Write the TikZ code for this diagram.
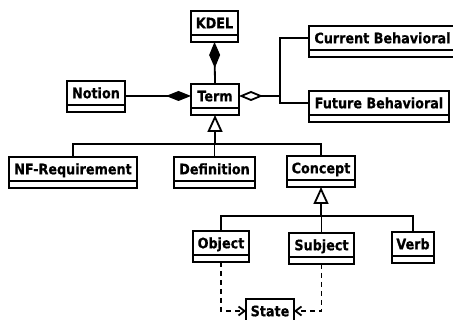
\documentclass[tikz,border=0pt]{standalone}
\usepackage{fontspec}
\setmainfont{DejaVu Sans}[FakeStretch=0.88,BoldFeatures={FakeBold=0.5}]
\usetikzlibrary{arrows.meta}
\begin{document}
\begin{tikzpicture}[x=1pt,y=-1pt,
  umlclass/.style={draw, line width=1.8pt, anchor=north west, outer sep=0pt,
    inner xsep=0pt, inner ysep=0pt, text height=17.3pt, text depth=13.7pt,
    font=\fontsize{14.5pt}{16pt}\selectfont\bfseries,
    path picture={\draw[line width=1.8pt]
      ([yshift=7pt]path picture bounding box.south west) --
      ([yshift=7pt]path picture bounding box.south east);}},
  conn/.style={line width=1.8pt},
  depend/.style={conn, dash pattern=on 5pt off 4pt,
    -{Straight Barb[length=6pt,width=9pt]}},
  composite/.style={-{Diamond[length=26pt,width=11pt]}},
  generalize/.style={-{Triangle[open,length=17pt,width=15pt]}}
]
\fill[white] (0,0) rectangle (453,320);
\clip (0,0) rectangle (453,320);

% classes
\node[umlclass, minimum width=47pt]  (kdel)    at (191,11)  {KDEL};
\node[umlclass, minimum width=58pt]  (notion)  at (67,81)   {Notion};
\node[umlclass, minimum width=48pt]  (term)    at (191,84)  {Term};
\node[umlclass, minimum width=147pt] (current) at (309,26)  {Current Behavioral};
\node[umlclass, minimum width=140pt] (future)  at (309,91)  {Future Behavioral};
\node[umlclass, minimum width=128pt] (nfreq)   at (9,157)   {NF-Requirement};
\node[umlclass, minimum width=81pt]  (defn)    at (174,157) {Definition};
\node[umlclass, minimum width=68pt]  (concept) at (287,156) {Concept};
\node[umlclass, minimum width=56pt]  (object)  at (193,231) {Object};
\node[umlclass, minimum width=65pt]  (subject) at (289,233) {Subject};
\node[umlclass, minimum width=42pt]  (verb)    at (392,232) {Verb};
\node[umlclass, minimum width=48pt]  (state)   at (246,299) {State};

% attachment points at the middle of each name compartment
\coordinate (tl) at ([yshift=3.5pt]term.west);
\coordinate (tr) at ([yshift=3.5pt]term.east);
\coordinate (cw) at ([yshift=3.5pt]current.west);
\coordinate (fw) at ([yshift=3.5pt]future.west);
\coordinate (sw) at ([yshift=3.5pt]state.west);
\coordinate (se) at ([yshift=3.5pt]state.east);
\coordinate (aggj) at (280,0);
\path (term.south) ++(0,29) coordinate (tbus);
\path (concept.south) ++(0,29) coordinate (cbus);

% composition
\draw[conn, composite] (term.north) -- (kdel.south);
\draw[conn, {Diamond[length=25pt,width=10pt]}-] (tl) -- (notion.east |- tl);

% aggregation
\draw[conn, {Diamond[open,length=24pt,width=10pt]}-] (tr) -- (tr -| aggj) |- (cw);
\draw[conn] (tr -| aggj) |- (fw);

% generalization of Term
\draw[conn, generalize] (tbus) -- (term.south);
\draw[conn] (nfreq.north) |- (tbus) -| (concept.north);
\draw[conn] (defn.north) -- (defn.north |- tbus);

% generalization of Concept
\draw[conn, generalize] (cbus) -- (concept.south);
\draw[conn] (object.north) |- (cbus) -| (verb.north);
\draw[conn] (subject.north) -- (subject.north |- cbus);

% dependencies on State
\draw[depend] (object.south) |- (sw);
\draw[depend] (subject.south) |- (se);
\end{tikzpicture}
\end{document}
